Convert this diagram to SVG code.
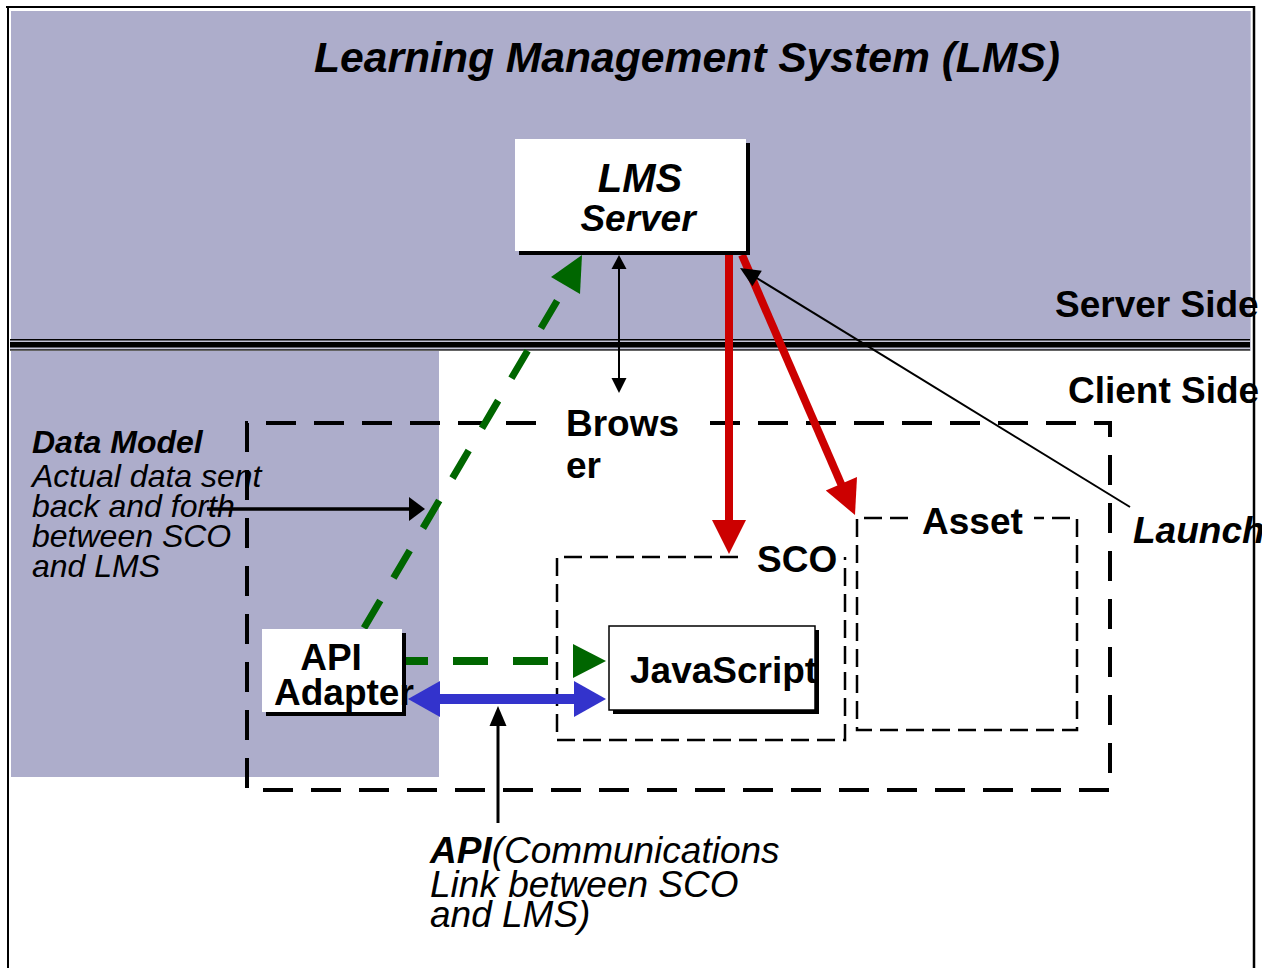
<svg xmlns="http://www.w3.org/2000/svg" width="1262" height="968" viewBox="0 0 1262 968">
<style>
text{font-family:"Liberation Sans",Arial,Helvetica,sans-serif;fill:#000}
.b{font-weight:bold}
.bi{font-weight:bold;font-style:italic}
.i{font-style:italic}
.big{font-size:37px}
.dm{font-size:32px}
.bdash{fill:none;stroke:#000;stroke-width:4;stroke-dasharray:30 18}
.tdash{fill:none;stroke:#000;stroke-width:2.5;stroke-dasharray:18 8}
.blk{stroke:#000;fill:none}
.red{stroke:#CC0000;stroke-width:8;fill:none}
.redh{fill:#CC0000}
.grn{stroke:#006600;fill:none}
.grnh{fill:#006600}
.blu{stroke:#3333CC;stroke-width:10;fill:none}
.bluh{fill:#3333CC}
.box{fill:#fff}
.shadow{fill:#000}
</style>
<rect x="0" y="0" width="1262" height="968" fill="#fff"/>
<g id="background">
<rect x="11" y="11" width="1239" height="328" fill="#ADADCB"/>
<rect x="10" y="340" width="1241" height="10" fill="#C4C4D8"/>
<rect x="10" y="339" width="1241" height="1.5" fill="#000"/>
<rect x="10" y="342" width="1241" height="5.5" fill="#000"/>
<rect x="10" y="349.3" width="1241" height="1.3" fill="#000"/>
<rect x="11" y="351" width="428" height="426" fill="#ADADCB"/>
<line x1="6" y1="7" x2="1255" y2="7" stroke="#000" stroke-width="2"/>
<line x1="8" y1="6" x2="8" y2="968" stroke="#000" stroke-width="2"/>
<line x1="1254" y1="6" x2="1254" y2="968" stroke="#000" stroke-width="2.5"/>
<line x1="1250.5" y1="11" x2="1250.5" y2="351" stroke="#C8C8D8" stroke-width="1"/>
</g>
<g id="labels">
<text class="bi" x="314" y="72" font-size="42.5" textLength="746" lengthAdjust="spacingAndGlyphs">Learning Management System (LMS)</text>
<text class="b big" x="1055" y="317">Server Side</text>
<text class="b big" x="1068" y="403">Client Side</text>
<text class="bi big" x="1133" y="543">Launch</text>
<text class="dm"><tspan class="bi" x="32" y="453">Data Model</tspan><tspan class="i" x="32" y="487">Actual data sent</tspan><tspan class="i" x="32" y="517">back and forth</tspan><tspan class="i" x="32" y="547">between SCO</tspan><tspan class="i" x="32" y="577">and LMS</tspan></text>
<text class="i big"><tspan x="430" y="863"><tspan class="bi">API</tspan>(Communications</tspan><tspan x="430" y="897">Link between SCO</tspan><tspan x="430" y="927">and LMS)</tspan></text>
</g>
<g id="browser">
<path class="bdash" d="M710,423 L1110,423 L1110,790 L247,790 L247,423 L548,423"/>
<text class="b big"><tspan x="566" y="436">Brows</tspan><tspan x="566" y="478">er</tspan></text>
</g>
<g id="sco">
<path class="tdash" d="M738,557 L557,557 L557,740 L845,740 L845,557"/>
<text class="b big" x="757" y="572">SCO</text>
</g>
<g id="asset">
<path class="tdash" d="M908,518 L857,518 L857,730 L1077,730 L1077,518 L1034,518"/>
<text class="b big" x="922" y="534">Asset</text>
</g>
<g id="connectors">
<line class="grn" x1="364" y1="628" x2="567" y2="284" stroke-width="7" stroke-dasharray="32 26"/>
<polygon class="grnh" points="582,255 551,277 580,294"/>
<line class="grn" x1="573" y1="661" x2="406" y2="661" stroke-width="8" stroke-dasharray="35 25" stroke-dashoffset="35"/>
<polygon class="grnh" points="573,644 606,661 573,678"/>
<line class="blu" x1="438" y1="699" x2="576" y2="699"/>
<polygon class="bluh" points="408,699 440,681 440,717"/>
<polygon class="bluh" points="606,699 574,681 574,717"/>
<line class="red" x1="729" y1="255" x2="729" y2="522"/>
<polygon class="redh" points="712,520 746,520 729,554"/>
<line class="red" x1="742" y1="255" x2="842" y2="486"/>
<polygon class="redh" points="855,515 857,477 825.8,490.6"/>
<line class="blk" x1="619" y1="266" x2="619" y2="380" stroke-width="2"/>
<polygon points="619,255 611.5,269 626.5,269"/>
<polygon points="619,393 611.5,378 626.5,378"/>
<line class="blk" x1="1130" y1="507" x2="755" y2="277" stroke-width="2"/>
<polygon points="740,268 761.8,270.8 752.4,286.2"/>
<line class="blk" x1="207" y1="509" x2="412" y2="509" stroke-width="3.5"/>
<polygon points="425,509 409,497 409,521"/>
<line class="blk" x1="498" y1="823" x2="498" y2="722" stroke-width="3"/>
<polygon points="498,706 489.5,726 506.5,726"/>
</g>
<g id="lms-server">
<rect class="shadow" x="519" y="143" width="231" height="112"/>
<rect class="box" x="515" y="139" width="231" height="112"/>
<text class="bi" text-anchor="middle"><tspan x="640" y="192" font-size="40">LMS</tspan><tspan x="638" y="231" font-size="37">Server</tspan></text>
</g>
<g id="api-adapter">
<rect class="shadow" x="266" y="633" width="140" height="83"/>
<rect class="box" x="262" y="629" width="140" height="83"/>
<text class="b big"><tspan x="331" y="670" text-anchor="middle">API</tspan><tspan x="274" y="705">Adapter</tspan></text>
</g>
<g id="javascript">
<rect class="shadow" x="613" y="630" width="206" height="84"/>
<rect class="box" x="609" y="626" width="206" height="84" stroke="#000" stroke-width="1.5"/>
<text class="b big" x="630" y="683">JavaScript</text>
</g>
</svg>
